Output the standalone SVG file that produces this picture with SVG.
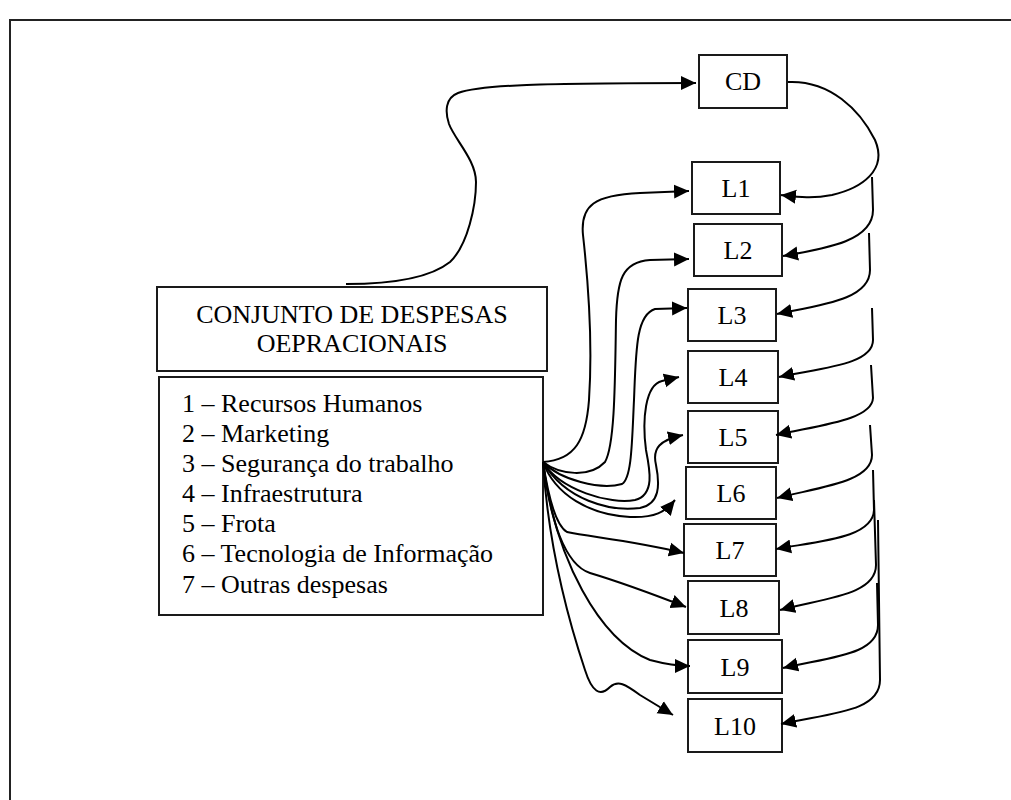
<svg xmlns="http://www.w3.org/2000/svg" width="1011" height="800" viewBox="0 0 1011 800">
  <defs>
    <style>
      .box { fill: #ffffff; stroke: #1a1a1a; stroke-width: 2; }
      .frame { fill: none; stroke: #222; stroke-width: 2; }
      .lbl { font-family: "Liberation Serif", "Times New Roman", serif; font-size: 26px; fill: #000; }
      .mid { text-anchor: middle; }
      .wire { fill: none; stroke: #000; stroke-width: 2; marker-end: url(#head); }
      .plain { fill: none; stroke: #000; stroke-width: 2; }
    </style>
    <marker id="head" markerUnits="userSpaceOnUse" markerWidth="16" markerHeight="16" refX="15" refY="8" orient="auto">
      <path d="M0,1 L15,8 L0,15 z" fill="#000"/>
    </marker>
  </defs>

  <rect width="1011" height="800" fill="#ffffff"/>
  <!-- page frame -->
  <rect class="frame" x="10" y="20" width="1020" height="800"/>

  <!-- heading box -->
  <g id="titulo">
    <rect class="box" x="157" y="287" width="390" height="84"/>
    <text class="lbl mid" x="352" y="323">CONJUNTO DE DESPESAS</text>
    <text class="lbl mid" x="352" y="352">OEPRACIONAIS</text>
  </g>

  <!-- expense categories -->
  <g id="lista">
    <rect class="box" x="159" y="377" width="384" height="238"/>
    <text class="lbl" x="182" y="412">1 – Recursos Humanos</text>
    <text class="lbl" x="182" y="442">2 – Marketing</text>
    <text class="lbl" x="182" y="472">3 – Segurança do trabalho</text>
    <text class="lbl" x="182" y="502">4 – Infraestrutura</text>
    <text class="lbl" x="182" y="532">5 – Frota</text>
    <text class="lbl" x="182" y="562">6 – Tecnologia de Informação</text>
    <text class="lbl" x="182" y="593">7 – Outras despesas</text>
  </g>

  <g id="CD">
    <rect class="box" x="699" y="55" width="88" height="53"/>
    <text class="lbl mid" x="743" y="90">CD</text>
  </g>
  <g id="L1">
    <rect class="box" x="692" y="162" width="88" height="52"/>
    <text class="lbl mid" x="736" y="197">L1</text>
  </g>
  <g id="L2">
    <rect class="box" x="694" y="224" width="88" height="52"/>
    <text class="lbl mid" x="738" y="259">L2</text>
  </g>
  <g id="L3">
    <rect class="box" x="688" y="289" width="88" height="52"/>
    <text class="lbl mid" x="732" y="324">L3</text>
  </g>
  <g id="L4">
    <rect class="box" x="688" y="351" width="90" height="52"/>
    <text class="lbl mid" x="733" y="386">L4</text>
  </g>
  <g id="L5">
    <rect class="box" x="688" y="411" width="90" height="52"/>
    <text class="lbl mid" x="733" y="446">L5</text>
  </g>
  <g id="L6">
    <rect class="box" x="686" y="467" width="90" height="52"/>
    <text class="lbl mid" x="731" y="502">L6</text>
  </g>
  <g id="L7">
    <rect class="box" x="684" y="524" width="92" height="52"/>
    <text class="lbl mid" x="730" y="559">L7</text>
  </g>
  <g id="L8">
    <rect class="box" x="688" y="581" width="91" height="53"/>
    <text class="lbl mid" x="734" y="617">L8</text>
  </g>
  <g id="L9">
    <rect class="box" x="688" y="640" width="94" height="53"/>
    <text class="lbl mid" x="735" y="676">L9</text>
  </g>
  <g id="L10">
    <rect class="box" x="688" y="699" width="94" height="53"/>
    <text class="lbl mid" x="735" y="735">L10</text>
  </g>

  <g id="conectores">
    <!-- heading to CD -->
    <path class="wire" d="M346,284 C390,284 430,278 450,262 C468,245 476,205 476,182 C476,160 455,140 449,124 C445,112 445,98 458,93 C480,85 540,83 696,83"/>
    <!-- CD to L1 -->
    <path class="wire" d="M788,82 C830,80 860,110 875,140 C888,170 862,188 832,195 C812,199 798,197 781,195"/>
    <!-- chain down the right side -->
    <path class="wire" d="M872,177 L873,210 C873,240 830,248 783,256"/>
    <path class="wire" d="M869,233 L870,270 C870,300 820,305 777,314"/>
    <path class="wire" d="M872,308 L873,340 C873,365 820,368 779,377"/>
    <path class="wire" d="M871,365 L873,398 C872,420 820,425 776,435"/>
    <path class="wire" d="M870,425 L872,455 C872,482 820,487 777,498"/>
    <path class="wire" d="M873,470 L874,510 C873,538 820,541 776,549"/>
    <path class="wire" d="M874,500 L876,565 C876,595 825,598 780,610"/>
    <path class="wire" d="M877,583 L878,625 C878,655 830,657 783,668"/>
    <path class="wire" d="M878,520 L880,680 C880,712 830,713 781,724"/>
    <!-- fan from the list to each L -->
    <path class="wire" d="M543,462 C575,460 586,440 589,400 C593,340 588,280 583,235 C580,205 595,195 640,193 L689,191"/>
    <path class="wire" d="M543,462 C560,475 590,478 605,462 C615,445 615,380 616,320 C617,280 622,262 650,260 L689,259"/>
    <path class="wire" d="M543,462 C560,480 600,490 622,484 C632,478 632,440 634,400 C636,350 636,315 655,309 L687,308"/>
    <path class="wire" d="M543,462 C560,490 610,505 635,500 C655,495 650,470 646,450 C642,420 645,385 662,381 L679,377"/>
    <path class="wire" d="M543,462 C565,500 610,512 640,508 C660,504 660,485 656,465 C652,448 660,440 683,435"/>
    <path class="wire" d="M543,462 C555,495 590,515 630,517 C655,518 665,512 675,500"/>
    <path class="wire" d="M543,462 C548,495 555,525 567,532 C590,537 630,540 684,553"/>
    <path class="wire" d="M543,462 C550,520 565,565 590,573 C620,582 650,593 686,607"/>
    <path class="wire" d="M543,462 C555,560 600,640 650,660 C665,664 675,666 690,666"/>
    <path class="wire" d="M543,462 C548,540 565,610 585,670 C592,692 600,697 610,687 C618,680 625,684 640,695 L673,715"/>
  </g>
</svg>
